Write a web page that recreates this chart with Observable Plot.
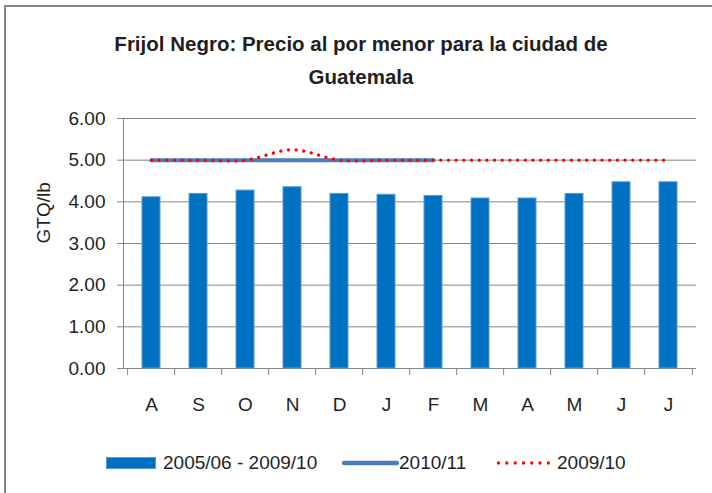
<!DOCTYPE html>
<html>
<head>
<meta charset="utf-8">
<script src="https://cdn.jsdelivr.net/npm/d3@7"></script>
<script src="https://cdn.jsdelivr.net/npm/@observablehq/plot@0.6"></script>
<style>
  body { margin: 0; background: #fff; }
  #wrap { position: relative; width: 712px; height: 493px; overflow: hidden; background: #fff;
          font-family: "Liberation Sans", Arial, sans-serif; color: #1f1f1f; }
  #border { position: absolute; left: 4px; top: 5px; width: 740px; height: 520px; border: 2px solid #868686; box-sizing: border-box; }
  #chart { position: absolute; left: 0; top: 0; }
  #title { position: absolute; left: 361px; top: 26.5px; transform: translateX(-50%); white-space: nowrap;
           text-align: center; font-weight: bold; font-size: 20.5px; line-height: 33px; }
  .lg { position: absolute; font-size: 19px; line-height: 22px; white-space: nowrap; }
</style>
</head>
<body>
<div id="wrap">
  <div id="border"></div>
  <div id="chart"></div>
  <div id="title">Frijol Negro: Precio al por menor para la ciudad de<br>Guatemala</div>
  <div id="legend"></div>
</div>
<script>
// ---- data ----
const months = ["A", "S", "O", "N", "D", "J", "F", "M", "A", "M", "J", "J"];
const avg0510 = [4.11, 4.19, 4.27, 4.35, 4.19, 4.17, 4.14, 4.08, 4.08, 4.19, 4.47, 4.47];
const s1011 = [5.00, 5.00, 5.00, 5.00, 5.00, 5.00, 5.00];
const s0910 = [5.00, 5.00, 5.00, 5.25, 5.00, 5.00, 5.00, 5.00, 5.00, 5.00, 5.00, 5.00];
const yTicks = [0, 1, 2, 3, 4, 5, 6];
const seriesNames = ["2005/06 - 2009/10", "2010/11", "2009/10"];
const yLabel = "GTQ/lb";

const idx = months.map((m, i) => i);
const bars = avg0510.map((v, i) => ({i, v}));
const l1011 = s1011.map((v, i) => ({i, v}));
const l0910 = s0910.map((v, i) => ({i, v}));

const W = 712, H = 493, mL = 123, mR = 16, mT = 118, mB = 125;
const step = (W - mL - mR) / months.length;
const grid = "#868686";

const chart = Plot.plot({
  width: W, height: H,
  marginLeft: mL, marginRight: mR, marginTop: mT, marginBottom: mB,
  style: {fontSize: "19px", fontFamily: "'Liberation Sans', Arial, sans-serif", color: "#1f1f1f", background: "transparent", overflow: "visible"},
  x: {type: "band", domain: idx, paddingInner: 0.608, paddingOuter: 0.304, axis: null},
  y: {domain: [0, 6], axis: null},
  marks: [
    Plot.gridY(yTicks, {stroke: grid, strokeOpacity: 1, strokeWidth: 1, insetLeft: -6}),
    Plot.frame({anchor: "left", stroke: grid, strokeWidth: 1}),
    Plot.ruleX(idx, {x: d => d, y1: 0, y2: -0.17, dx: -step / 2, stroke: grid}),
    Plot.ruleX([idx[idx.length - 1]], {x: d => d, y1: 0, y2: -0.17, dx: step / 2, stroke: grid}),
    Plot.barY(bars, {x: "i", y: "v", fill: "#0070C0", stroke: "#5B9BD5", strokeWidth: 1}),
    Plot.line(l1011, {x: "i", y: "v", stroke: "#4A7EBB", strokeWidth: 4}),
    Plot.line(l0910, {x: "i", y: "v", stroke: "#FF0000", strokeWidth: 3.3, strokeDasharray: "0.01 7.67", strokeLinecap: "round", curve: "catmull-rom"}),
    Plot.axisY(yTicks, {tickSize: 0, tickPadding: 18, tickFormat: d => d.toFixed(2), fontSize: 19, label: null}),
    Plot.axisX({tickSize: 0, tickPadding: 29, tickFormat: i => months[i], fontSize: 19, label: null}),
    Plot.text([yLabel], {frameAnchor: "left", dx: -80, rotate: -90, fontSize: 19, fill: "#1f1f1f"})
  ]
});
document.getElementById("chart").appendChild(chart);

// ---- legend ----
const lg = document.getElementById("legend");
function add(html) { lg.insertAdjacentHTML("beforeend", html); }
// bar swatch
add(`<div style="position:absolute;left:106px;top:457px;width:50px;height:12px;background:#0070C0;border:1px solid #5B9BD5;box-sizing:border-box"></div>`);
add(`<div class="lg" style="left:163px;top:452px">${seriesNames[0]}</div>`);
// line swatch
add(`<svg style="position:absolute;left:340px;top:456px" width="62" height="14"><line x1="4" y1="7" x2="57" y2="7" stroke="#4A7EBB" stroke-width="4.3" stroke-linecap="round"/></svg>`);
add(`<div class="lg" style="left:399px;top:452px">${seriesNames[1]}</div>`);
// dotted swatch
add(`<svg style="position:absolute;left:494px;top:456px" width="60" height="14"><line x1="4.5" y1="7" x2="54.5" y2="7" stroke="#FF0000" stroke-width="3.3" stroke-dasharray="0.01 8.3" stroke-linecap="round"/></svg>`);
add(`<div class="lg" style="left:557px;top:452px">${seriesNames[2]}</div>`);
</script>
</body>
</html>
